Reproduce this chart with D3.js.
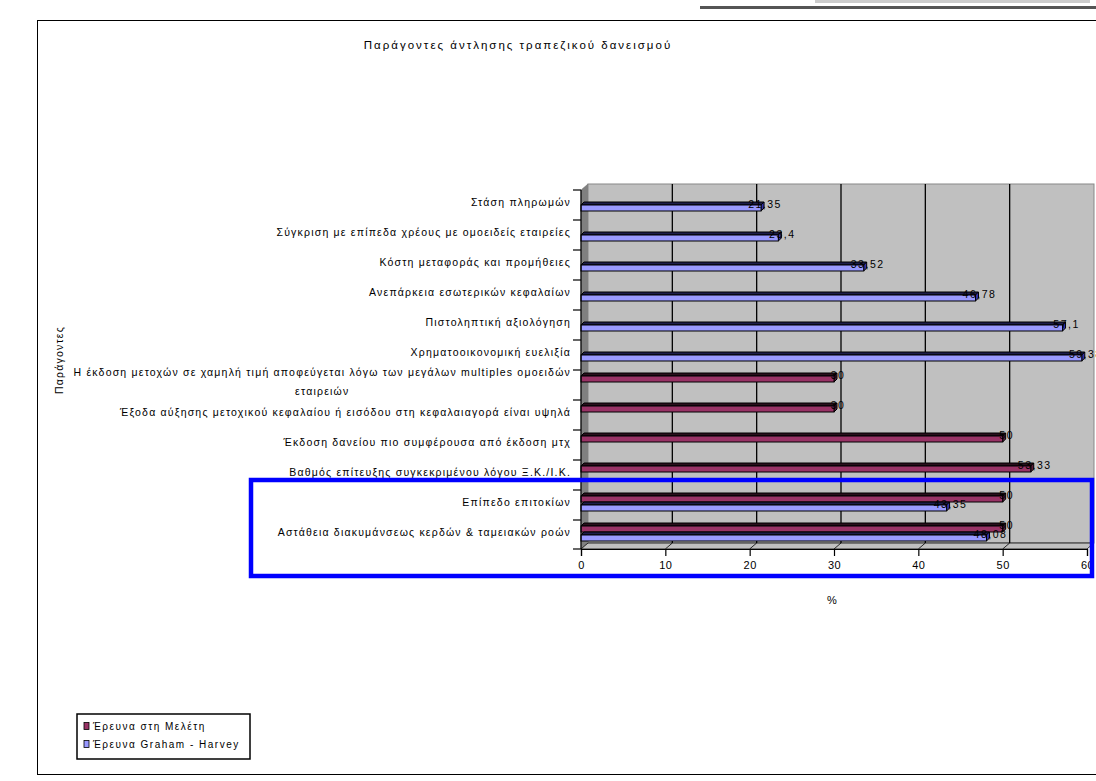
<!DOCTYPE html>
<html>
<head>
<meta charset="utf-8">
<script src="https://cdn.jsdelivr.net/npm/d3@7"></script>
<style>
  html, body { margin: 0; padding: 0; background: #fff; }
  svg { display: block; font-family: "Liberation Sans", Arial, sans-serif; }
</style>
</head>
<body>
<svg id="chart" width="1096" height="781"></svg>
<script>
// Factors (top to bottom)
const categories = [
  "Στάση πληρωμών",
  "Σύγκριση με επίπεδα χρέους με ομοειδείς εταιρείες",
  "Κόστη μεταφοράς και προμήθειες",
  "Ανεπάρκεια εσωτερικών κεφαλαίων",
  "Πιστοληπτική αξιολόγηση",
  "Χρηματοοικονομική ευελιξία",
  "Η έκδοση μετοχών σε χαμηλή τιμή αποφεύγεται λόγω των μεγάλων multiples ομοειδών|εταιρειών",
  "Έξοδα αύξησης μετοχικού κεφαλαίου ή εισόδου στη κεφαλαιαγορά είναι υψηλά",
  "Έκδοση δανείου πιο συμφέρουσα από έκδοση μτχ",
  "Βαθμός επίτευξης συγκεκριμένου λόγου Ξ.Κ./Ι.Κ.",
  "Επίπεδο επιτοκίων",
  "Αστάθεια διακυμάνσεως κερδών & ταμειακών ροών"
];
// Series values (null = no answer in that survey)
const localSurvey  = [null, null, null, null, null, null, 30, 30, 50, 53.33, 50, 50];
const grahamHarvey = [21.35, 23.4, 33.52, 46.78, 57.1, 59.38, null, null, null, null, 43.35, 48.08];
const seriesNames  = ["Έρευνα στη Μελέτη", "Έρευνα Graham - Harvey"];
const xTicks = [0, 10, 20, 30, 40, 50, 60];

const chartTitle = "Παράγοντες άντλησης τραπεζικού δανεισμού";
const yTitle = "Παράγοντες";
const xTitle = "%";

const colors = ["#993366", "#9999FF"];
const tops   = ["#2a0f1c", "#1c1c4a"];
const sides  = ["#5c1f3d", "#3333aa"];

const svg = d3.select("#chart");

// outer frame
svg.append("rect").attr("x", 37.5).attr("y", 20.5).attr("width", 1070).attr("height", 754)
  .attr("fill", "none").attr("stroke", "#000").attr("stroke-width", 1);
svg.append("rect").attr("x", 700).attr("y", 6).attr("width", 396).attr("height", 3).attr("fill", "#555");
svg.append("rect").attr("x", 815).attr("y", 0).attr("width", 275).attr("height", 3).attr("fill", "#ccc");

const x = d3.scaleLinear().domain([0, 60]).range([581, 1087]);
const y = d3.scaleBand().domain(categories).range([190, 550]);
const depth = 7;          // wall depth offset
const bd = 3;             // bar depth offset
const faceH = 6;
const floorY = y.range()[1] - 1;

// left side wall
svg.append("path")
  .attr("d", `M${x(0)},${y.range()[0]} L${x(0) + depth},${y.range()[0] - 6} L${x(0) + depth},${floorY - 6} L${x(0)},${floorY} Z`)
  .attr("fill", "#808080").attr("stroke", "#666").attr("stroke-width", 0.5);
// back wall
svg.append("rect")
  .attr("x", x(0) + depth).attr("y", y.range()[0] - 6)
  .attr("width", x(60) - x(0)).attr("height", floorY - y.range()[0])
  .attr("fill", "#C0C0C0").attr("stroke", "#888").attr("stroke-width", 1);
// floor
svg.append("path")
  .attr("d", `M${x(0)},${floorY} L${x(0) + depth},${floorY - 6} L${x(60) + depth},${floorY - 6} L${x(60)},${floorY} Z`)
  .attr("fill", "#C0C0C0").attr("stroke", "#000").attr("stroke-width", 0.8);

// gridlines on back wall and floor
xTicks.slice(1, -1).forEach(v => {
  svg.append("line")
    .attr("x1", x(v) + depth).attr("x2", x(v) + depth)
    .attr("y1", y.range()[0] - 6).attr("y2", floorY - 6)
    .attr("stroke", "#000").attr("stroke-width", 1.3);
  svg.append("line")
    .attr("x1", x(v)).attr("x2", x(v) + depth)
    .attr("y1", floorY).attr("y2", floorY - 6)
    .attr("stroke", "#000").attr("stroke-width", 0.8);
});

// bars
const series = [localSurvey, grahamHarvey];
const fmt = v => String(v).replace(".", ",");
const barG = svg.append("g");
categories.forEach((c, i) => {
  series.forEach((vals, s) => {
    const v = vals[i];
    if (v == null) return;
    const x0 = x(0), x1 = x(v);
    const fy = y(c) + 3 + s * 9 + bd;
    // top face
    barG.append("path")
      .attr("d", `M${x0},${fy} L${x0 + bd},${fy - bd} L${x1 + bd},${fy - bd} L${x1},${fy} Z`)
      .attr("fill", tops[s]).attr("stroke", "#000").attr("stroke-width", 1);
    // end face
    barG.append("path")
      .attr("d", `M${x1},${fy} L${x1 + bd},${fy - bd} L${x1 + bd},${fy - bd + faceH} L${x1},${fy + faceH} Z`)
      .attr("fill", sides[s]).attr("stroke", "#000").attr("stroke-width", 1);
    // front face
    barG.append("rect")
      .attr("x", x0).attr("y", fy).attr("width", x1 - x0).attr("height", faceH)
      .attr("fill", colors[s]).attr("stroke", "#000").attr("stroke-width", 1);
    // value label
    barG.append("text")
      .attr("x", x1 + 4).attr("y", fy - 1).attr("dy", "0.35em")
      .attr("text-anchor", "middle").attr("font-size", 10.5).attr("letter-spacing", 1.5)
      .attr("fill", "#000")
      .text(fmt(v));
  });
});

// x axis
const xAxis = svg.append("g").attr("transform", `translate(0,${floorY})`)
  .call(d3.axisBottom(x).tickValues(xTicks).tickSize(7).tickPadding(5));
xAxis.select(".domain").attr("stroke", "#000").attr("stroke-width", 1.2);
xAxis.selectAll(".tick line").attr("stroke", "#000").attr("stroke-width", 1.2);
xAxis.selectAll("text").attr("font-size", 11).attr("fill", "#000").attr("letter-spacing", 0.5)
  .style("font-family", "\"Liberation Sans\", Arial, sans-serif");

// y axis line and ticks at band boundaries
svg.append("line").attr("x1", x(0)).attr("x2", x(0))
  .attr("y1", y.range()[0]).attr("y2", floorY)
  .attr("stroke", "#000").attr("stroke-width", 1.2);
d3.range(categories.length + 1).forEach(k => {
  const yy = y.range()[0] + k * y.bandwidth() - (k === categories.length ? 1 : 0);
  svg.append("line").attr("x1", x(0) - 8).attr("x2", x(0))
    .attr("y1", yy).attr("y2", yy).attr("stroke", "#000").attr("stroke-width", 1.2);
});

// category labels
const labG = svg.append("g").attr("font-size", 10.5).attr("letter-spacing", 1.2).attr("fill", "#000");
categories.forEach(c => {
  const lines = c.split("|");
  const cy = y(c) + y.bandwidth() / 2 - 3;
  const lh = 19;
  const t0 = labG.append("text")
    .attr("x", 571).attr("y", cy - (lines.length - 1) * lh / 2).attr("dy", "0.35em")
    .attr("text-anchor", "end").text(lines[0]);
  if (lines.length > 1) {
    const w = t0.node().getComputedTextLength();
    labG.append("text")
      .attr("x", 571 - w / 2).attr("y", cy + lh / 2).attr("dy", "0.35em")
      .attr("text-anchor", "middle").text(lines[1]);
  }
});

// titles
svg.append("text").attr("x", 518).attr("y", 45).attr("dy", "0.35em")
  .attr("text-anchor", "middle").attr("font-size", 11.5).attr("letter-spacing", 2)
  .text(chartTitle);
svg.append("text").attr("transform", "translate(59,360) rotate(-90)").attr("dy", "0.35em")
  .attr("text-anchor", "middle").attr("font-size", 10.5).attr("letter-spacing", 1.2)
  .text(yTitle);
svg.append("text").attr("x", 832).attr("y", 600).attr("dy", "0.35em")
  .attr("text-anchor", "middle").attr("font-size", 11).text(xTitle);

// highlight box around the shared factors
svg.append("rect").attr("x", 251).attr("y", 480).attr("width", 841).attr("height", 96)
  .attr("fill", "none").attr("stroke", "#0000FF").attr("stroke-width", 4.5);

// legend
const leg = svg.append("g");
leg.append("rect").attr("x", 77).attr("y", 714).attr("width", 173).attr("height", 45)
  .attr("fill", "#fff").attr("stroke", "#000").attr("stroke-width", 1.5);
seriesNames.forEach((n, i) => {
  const ly = 726 + i * 18;
  leg.append("rect").attr("x", 84).attr("y", ly - 3.5).attr("width", 5).attr("height", 7)
    .attr("fill", colors[i]).attr("stroke", "#000").attr("stroke-width", 0.8);
  leg.append("text").attr("x", 93).attr("y", ly).attr("dy", "0.35em")
    .attr("font-size", 10).attr("letter-spacing", 1.5).text(n);
});
</script>
</body>
</html>
